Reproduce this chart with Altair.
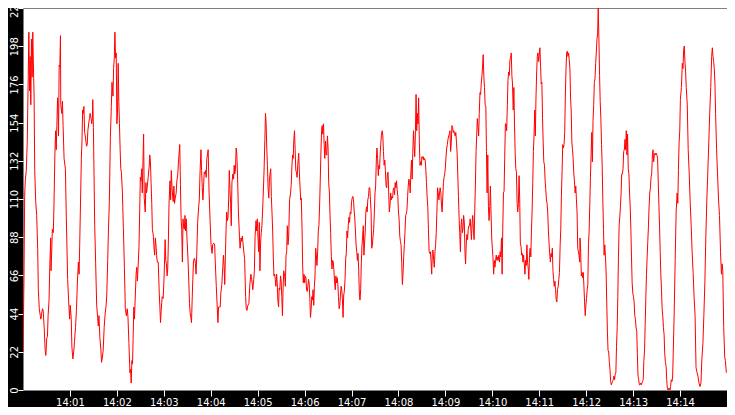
import altair as alt
import pandas as pd

# seconds after 14:00:00 at which each value was read
SECS = [
 0, 1.25, 2.1, 2.9, 4.2, 5.4, 6.7, 7.5, 8.3, 9.2, 10, 10.8, 11.7, 12.5, 13.3, 14.2, 15, 16.25, 17.5, 18.75,
 19.6, 20.8, 22.1, 22.9, 23.75, 25, 25.8, 27.1, 28.3, 29.2, 30.4, 31.25, 32.1, 33.3, 34.2, 35.4, 35.8, 36.7, 37.5, 38.75,
 39.6, 40.8, 41.7, 42.5, 43.3, 44.2, 45, 45.4, 46.25, 47.1, 47.9, 48.3, 49.6, 50.4, 51.25, 52.5, 54.2, 55.4, 57.1, 58.3,
 59.6, 60.4, 61.7, 62.5, 63.75, 65, 65.8, 67.1, 68.3, 69.6, 70.8, 71.7, 72.5, 73.75, 74.6, 75.4, 76.25, 77.1, 77.9, 78.75,
 79.6, 80.4, 81.25, 82.1, 82.9, 84.2, 85, 85.8, 87.1, 87.9, 88.75, 89.2, 90, 90.8, 91.7, 92.9, 94.2, 95.4, 96.25, 97.1,
 98.3, 99.6, 100.4, 101.25, 102.5, 103.75, 105, 106.25, 107.1, 108.3, 109.2, 110.4, 111.7, 112.9, 113.75, 115, 115.8, 116.7, 117.5,
 118.3, 119.2, 120, 120.8, 121.7, 122.5, 123.3, 124.2, 125, 125.8, 127.1, 128.3, 129.6, 130.8, 132.1, 133.3, 134.2, 135.4, 136.7, 137.5,
 138.3, 139.2, 140, 140.8, 141.7, 142.5, 143.3, 144.6, 145.4, 146.25, 147.1, 148.3, 149.2, 150, 150.8, 151.7, 152.5, 153.3, 154.2, 155,
 156.25, 157.1, 157.9, 158.75, 160, 161.25, 162.1, 162.9, 163.75, 164.6, 165.4, 166.7, 167.5, 168.3, 169.2, 170, 170.8, 171.7, 172.9, 174.2,
 175, 175.8, 176.7, 177.9, 179.2, 180.4, 181.7, 182.5, 183.3, 184.2, 185, 185.8, 186.7, 187.9, 188.75, 189.6, 190.4, 191.25, 192.1, 192.9,
 193.75, 194.6, 195.8, 196.7, 197.9, 198.75, 199.6, 200.4, 201.25, 202.1, 202.9, 203.75, 204.6, 205.4, 206.25, 207.1, 207.9, 208.75, 209.6, 210.8,
 211.7, 212.9, 213.75, 214.6, 215.4, 216.25, 217.1, 217.9, 218.75, 219.6, 220.4, 221.25, 222.1, 223.3, 224.6, 225.4, 226.25, 227.5, 228.3, 229.2,
 230, 230.8, 231.7, 232.5, 233.3, 234.2, 235, 235.8, 236.7,
 237.1, 237.9, 239.2, 240.4, 241.7, 242.5, 243.75, 245, 245.8, 247.1, 248.3, 249.2, 250, 251.25, 252.1, 252.9, 254.2, 255.4, 256.25, 257.1,
 257.9, 258.75, 259.6, 260.4, 261.25, 262.1, 262.9, 263.75, 264.6, 265.4, 266.25, 267.1, 268.3, 269.2, 270, 270.8, 271.7, 272.5, 273.3, 274.2,
 275.4, 276.7, 277.5, 278.75, 279.6, 280.4, 281.25, 282.1, 283.3, 284.6, 285.4, 286.25, 287.5, 288.75, 290, 291.25, 292.1, 292.9, 293.75, 295,
 295.8, 296.7, 297.9, 298.75, 299.6, 300.4, 301.25, 302.1, 302.9, 303.75, 304.6, 305.4, 306.25, 307.5, 308.3, 309.2, 310, 310.8, 311.7, 312.5,
 313.3, 314.2, 315, 315.8, 316.7, 317.5, 318.3, 319.2, 320, 320.8, 321.7, 322.5, 323.3, 324.2, 325, 325.8, 326.7, 327.5, 328.3, 329.2,
 330, 330.8, 331.7, 332.5, 333.3, 334.6, 335.4, 336.25, 337.1, 337.9, 338.75, 339.6, 340.8, 342.1, 342.9, 343.75, 344.6, 345.4, 346.25, 347.1,
 347.9, 348.75, 349.6, 350.4, 351.25, 352.5, 353.3, 354.2, 355, 355.8,
 356.7, 357.5, 358.3, 359.2, 360, 360.8, 361.7, 362.5, 363.3, 364.2, 365, 365.8, 366.7, 367.5, 368.3, 369.2, 370, 370.8, 371.7, 372.5,
 373.3, 374.2, 375, 375.8, 376.7, 377.5, 378.3, 379.2, 380, 380.8, 381.7, 382.5, 383.3, 384.2, 385, 385.8, 386.7, 387.5, 388.3, 389.2,
 390, 390.8, 391.7, 392.5, 393.3, 394.2, 395, 395.8, 396.7, 397.5, 398.3, 399.2, 400, 400.8, 401.7, 402.5, 403.3, 404.2, 405, 405.8,
 406.7, 407.5, 408.3, 409.2, 410, 410.8, 411.7, 412.5, 413.3, 414.2, 415, 415.8, 416.7, 417.5, 418.3, 419.2, 420, 420.8, 421.7, 422.5,
 423.3, 424.2, 425, 425.8, 426.7, 427.5, 428.3, 429.2, 430, 430.8, 431.7, 432.5, 433.3, 434.2, 435, 435.8, 436.7, 437.5, 438.3, 439.2,
 440, 440.8, 441.7, 442.5, 443.3, 444.2, 445, 445.8, 446.7, 447.5, 448.3, 449.2, 450, 450.8, 451.7, 452.5, 453.3, 454.2, 455, 455.8,
 456.7, 457.5, 458.3, 459.2, 460, 460.8, 461.7, 462.5, 463.3, 464.2, 465, 465.8, 466.7, 467.5, 468.3, 469.2, 470, 470.8, 471.7, 472.5,
 473.3, 474.2,
 475, 475.8, 476.7, 477.5, 478.3, 479.2, 480, 480.8, 481.7, 482.5, 483.3, 484.2, 485, 485.8, 486.7, 487.5, 488.3, 489.2, 490, 490.8,
 491.7, 492.5, 493.3, 494.2, 495, 495.8, 496.7, 497.5, 498.3, 499.2, 500, 500.8, 501.7, 502.5, 503.3, 504.2, 505, 505.8, 506.7, 507.5,
 508.3, 509.2, 510, 510.8, 511.7, 512.5, 513.3, 514.2, 515, 515.8, 516.7, 517.5, 518.3, 519.2, 520, 520.8, 521.7, 522.5, 523.3, 524.2,
 525, 525.8, 526.7, 527.5, 528.3, 529.2, 530, 530.8, 531.7, 532.5, 533.3, 534.2, 535, 535.8, 536.7, 537.5, 538.3, 539.2, 540, 540.8,
 541.7, 542.5, 543.3, 544.2, 545, 545.8, 546.7, 547.5, 548.3, 549.2, 550, 550.8, 551.7, 552.5, 553.3, 554.2, 555, 555.8, 556.7, 557.5,
 558.3, 559.2, 560, 560.8, 561.7, 562.5, 563.3, 564.2, 565, 565.8, 566.7, 567.5, 568.3, 569.2, 570, 570.8, 571.7, 572.5, 573.3, 574.2,
 575, 575.8, 576.7, 577.5, 578.3, 579.2, 580, 580.8, 581.7, 582.5, 583.3, 584.2, 585, 585.8, 586.7, 587.5, 588.3, 589.2, 590, 590.8,
 591.7, 592.5, 593.3,
 594.2, 595, 595.8, 596.7, 597.5, 598.3, 599.2, 600, 600.8, 601.7, 602.5, 603.3, 604.2, 605, 605.8, 606.7, 607.5, 608.3, 609.2, 610,
 610.8, 611.7, 612.5, 613.3, 614.2, 615, 615.8, 616.7, 617.5, 618.3, 619.2, 620, 620.8, 621.7, 622.5, 623.3, 624.2, 625, 625.8, 626.7,
 627.5, 628.3, 629.2, 630, 630.8, 631.7, 632.5, 633.3, 634.2, 635, 635.8, 636.7, 637.5, 638.3, 639.2, 640, 640.8, 641.7, 642.5, 643.3,
 644.2, 645, 645.8, 646.7, 647.5, 648.3, 649.2, 650, 650.8, 651.7, 652.5, 653.3, 654.2, 655, 655.8, 656.7, 657.5, 658.3, 659.2, 660,
 660.8, 661.7, 662.5, 663.3, 664.2, 665, 665.8, 666.7, 667.5, 668.3, 669.2, 670, 670.8, 671.7, 672.5, 673.3, 674.2, 675, 675.8, 676.7,
 677.5, 678.3, 679.2, 680, 680.8, 681.7, 682.5, 683.3, 684.2, 685, 685.8, 686.7, 687.5, 688.3, 689.2, 690, 690.8, 691.7, 692.5, 693.3,
 694.2, 695, 695.8, 696.7, 697.5, 698.3, 699.2, 700, 700.8, 701.7, 702.5, 703.3, 704.2, 705, 705.8, 706.7, 707.5, 708.3, 709.2, 710,
 710.8, 711.7,
 712.1, 712.9, 713.75, 714.6, 715.4, 716.25, 717.1, 717.9, 718.75, 719.6, 720.4, 721.25, 722.1, 722.9, 723.75, 724.6, 725.4, 726.25, 727.1, 727.9,
 728.75, 729.6, 730.4, 731.25, 732.1, 732.9, 733.75, 734.6, 735.4, 736.25, 737.1, 737.9, 738.75, 739.6, 740.4, 741.25, 742.1, 742.9, 743.75, 744.6,
 745.4, 746.25, 747.1, 747.9, 748.75, 749.6, 750.4, 751.25, 752.1, 752.9, 753.75, 754.6, 755.4, 756.25, 757.1, 757.9, 758.75, 759.6, 760.4, 761.25,
 762.1, 762.9, 763.75, 764.6, 765.4, 766.25, 767.1, 767.9, 768.75, 769.6, 770.4, 771.25, 772.1, 772.9, 773.75, 774.6, 775.4, 776.25, 777.1, 777.9,
 778.75, 779.6, 780.4, 781.25, 782.1, 782.9, 783.75, 784.6, 785.4, 786.25, 787.1, 787.9, 788.75, 789.6, 790.4, 791.25, 792.1, 792.9, 793.75, 794.6,
 795.4, 796.25, 797.1, 797.9, 798.75, 799.6, 800.4, 801.25, 802.1, 802.9, 803.75, 804.6, 805.4, 806.25, 807.1, 807.9, 808.75, 809.6, 810.4, 811.25,
 812.1, 812.9, 813.75, 814.6, 815.4, 816.25, 817.1, 817.9, 818.75, 819.6, 820.4, 821.25, 822.1, 822.9, 823.75, 824.6, 825.4, 826.25, 827.1, 827.9,
 828.75, 829.6, 830.4,
 831.25, 832.5, 833.75, 835, 836.25, 837.1, 837.9, 838.75, 839.6, 840.4, 841.7, 842.9, 843.75, 844.6, 845.4, 846.25, 847.1, 847.9, 849.2, 850.4,
 851.7, 852.9, 854.2, 855.4, 856.7, 857.9, 859.2, 860.4, 861.7, 862.9, 864.2, 865.4, 866.7, 867.9, 869.2, 870.4, 871.7, 872.9, 874.2, 875.4,
 876.7, 877.9, 879.2, 880.4, 881.25, 882.1, 882.9, 883.75, 884.6, 885.4, 886.7, 887.9, 889.2, 890.4, 891.7, 892.9, 893.75, 894.6, 895.8, 897.1,
 897.9, 899.2,
]

VALUES = [
 22, 64, 112, 121, 127, 143, 182, 207, 173, 193, 165, 203, 181, 207, 188, 170, 127, 109, 101, 82,
 58, 47, 43, 41, 44, 47, 46, 36, 23, 20, 30, 31, 43, 52, 71, 88, 69, 80, 93, 91,
 107, 137, 150, 139, 153, 169, 158, 147, 188, 187, 205, 165, 160, 167, 153, 134, 128, 99, 64, 52,
 41, 49, 41, 25, 18, 23, 28, 36, 46, 63, 74, 67, 84, 114, 134, 144, 162, 160, 164, 149,
 147, 144, 141, 142, 150, 155, 157, 160, 157, 154, 158, 168, 152, 125, 95, 73, 49, 42, 37, 43,
 30, 23, 16, 18, 23, 36, 44, 49, 55, 75, 92, 109, 146, 164, 178, 170, 186, 192, 207,
 192, 195, 154, 160, 189, 167, 154, 139, 128, 126, 114, 94, 71, 47, 43, 47, 42, 27, 10, 12,
 4, 17, 15, 30, 48, 41, 51, 67, 71, 63, 71, 83, 104, 123, 121, 128, 114, 131, 148, 111,
 103, 120, 114, 117, 123, 129, 136, 132, 120, 108, 93, 89, 82, 78, 88, 84, 78, 74, 74, 56,
 48, 39, 46, 54, 53, 66, 87, 75, 73, 66, 70, 85, 108, 121, 110, 127, 118, 112, 109, 118,
 108, 111, 114, 121, 125, 132, 137, 142, 119, 99, 93, 74, 99, 94, 93, 101, 92, 99, 88, 77,
 66, 50, 44, 42, 39, 52, 64, 74, 76, 76, 73, 67, 78, 97, 106, 110, 125, 139, 127, 117,
 110, 117, 126, 125, 127, 123, 134, 136, 139,
 132, 114, 98, 84, 79, 84, 85, 84, 74, 60, 48, 39, 48, 48, 48, 56, 61, 71, 78, 72,
 61, 78, 93, 103, 98, 100, 110, 127, 116, 108, 95, 120, 125, 122, 130, 125, 128, 140, 137, 125,
 103, 89, 82, 88, 86, 89, 85, 81, 76, 54, 47, 46, 49, 50, 61, 67, 65, 62, 58, 64,
 69, 89, 98, 92, 99, 88, 80, 97, 69, 85, 91, 95, 103, 118, 129, 145, 160, 154, 139, 130,
 117, 111, 121, 125, 128, 112, 103, 92, 77, 66, 67, 64, 60, 67, 62, 52, 48, 59, 58, 66,
 63, 54, 43, 59, 69, 66, 60, 78, 80, 95, 84, 88, 110, 114, 119, 129, 136, 134, 145, 150,
 139, 127, 126, 123, 130, 137, 126, 117, 110, 111,
 94, 72, 62, 67, 62, 66, 65, 58, 57, 60, 64, 62, 53, 42, 46, 54, 52, 58, 49, 60,
 66, 82, 78, 72, 80, 92, 95, 107, 121, 136, 150, 153, 148, 154, 142, 134, 144, 136, 136, 147,
 140, 120, 114, 101, 91, 77, 70, 75, 74, 69, 63, 58, 66, 62, 65, 61, 54, 47, 49, 55,
 60, 58, 53, 42, 55, 57, 64, 76, 79, 92, 88, 95, 100, 97, 103, 102, 109, 111, 112, 110,
 104, 99, 92, 84, 80, 75, 79, 69, 56, 52, 58, 73, 83, 89, 95, 78, 85, 92, 103, 106,
 103, 110, 112, 117, 117, 110, 103, 82, 84, 89, 93, 103, 114, 118, 133, 140, 134, 124, 130, 128,
 137, 143, 148, 150, 147, 138, 130, 133, 127, 118, 117, 125, 126, 114, 103, 107, 114, 110, 112, 111,
 116, 117,
 113, 120, 117, 121, 116, 112, 103, 99, 89, 86, 84, 73, 61, 67, 77, 84, 91, 101, 102, 104,
 112, 118, 122, 120, 114, 125, 133, 122, 137, 150, 142, 135, 150, 171, 150, 160, 154, 169, 143, 130,
 132, 130, 135, 134, 135, 133, 134, 133, 127, 120, 111, 106, 93, 80, 79, 80, 74, 67, 80, 81,
 75, 71, 80, 84, 91, 104, 117, 114, 110, 114, 117, 114, 107, 103, 112, 120, 123, 125, 129, 135,
 140, 142, 145, 147, 148, 150, 138, 143, 153, 152, 149, 150, 148, 147, 149, 143, 137, 125, 112, 100,
 91, 80, 95, 99, 91, 93, 101, 97, 80, 73, 85, 90, 87, 93, 95, 95, 99, 93, 87, 97,
 101, 93, 87, 103, 118, 138, 147, 157, 152, 147, 160, 172, 171, 177, 182, 187, 194, 181, 175, 165,
 164, 138, 114,
 136, 106, 98, 106, 118, 103, 88, 82, 77, 67, 75, 71, 75, 78, 75, 77, 75, 78, 74, 80,
 77, 88, 67, 92, 114, 115, 134, 154, 154, 150, 165, 179, 184, 182, 191, 192, 195, 182, 177, 162,
 175, 155, 137, 128, 126, 108, 103, 108, 124, 110, 85, 83, 78, 79, 74, 78, 73, 67, 75, 72,
 84, 74, 71, 64, 78, 82, 77, 92, 103, 120, 138, 147, 162, 147, 169, 184, 193, 195, 190, 194,
 198, 187, 177, 178, 157, 143, 132, 130, 121, 116, 110, 108, 103, 92, 85, 79, 74, 79, 77, 82,
 69, 64, 60, 63, 58, 52, 51, 58, 60, 64, 68, 84, 93, 112, 127, 142, 140, 142, 149, 169,
 186, 195, 196, 193, 195, 191, 186, 169, 162, 143, 139, 134, 125, 121, 114, 118, 110, 103, 82, 80,
 78, 74,
 88, 81, 66, 68, 65, 68, 60, 51, 43, 49, 53, 58, 61, 84, 92, 108, 123, 136, 149, 132,
 156, 165, 178, 180, 189, 195, 203, 206, 221, 203, 182, 167, 157, 142, 130, 110, 93, 78, 84, 77,
 69, 51, 34, 23, 22, 16, 12, 5, 3, 4, 5, 6, 8, 6, 9, 10, 25, 36, 54, 77,
 95, 100, 106, 114, 125, 125, 128, 138, 139, 145, 139, 150, 136, 148, 128, 125, 114, 106, 93, 77,
 62, 56, 54, 51, 43, 41, 36, 34, 21, 8, 6, 3, 3, 4, 3, 4, 5, 6, 17, 23,
 38, 54, 67, 77, 86, 95, 106, 114, 117, 123, 125, 136, 139, 132, 136, 137, 136, 137, 136, 134,
 121, 108, 95, 80, 67, 58, 47, 43, 36, 32, 21, 16, 14, 6, 1, 0, 1, 1, 0, 2,
 6, 5, 6,
 21, 45, 75, 103, 114, 108, 127, 143, 150, 168, 175, 189, 186, 197, 199, 190, 184, 175, 165, 139,
 125, 109, 95, 80, 68, 54, 43, 13, 10, 8, 4, 2, 4, 18, 27, 43, 62, 88, 110, 125,
 143, 160, 175, 193, 198, 193, 190, 186, 177, 160, 139, 125, 110, 101, 80, 67, 73, 69, 36, 19,
 17, 10,
]

Y_TICKS = [0, 22.1, 44.2, 66.3, 88.4, 110.5, 132.6, 154.7, 176.8, 198.9, 221]
X_TICK_MINUTES = list(range(1, 15))
DOMAIN_MINUTES = [0, 15]


def stamp(s):
    ms = int(round(s * 1000))
    m, rem = divmod(ms, 60000)
    return f"2024-01-01T14:{m:02d}:{rem // 1000:02d}.{rem % 1000:03d}"


def at(minute):
    return alt.DateTime(year=2024, month=1, date=1, hours=14, minutes=minute)


df = pd.DataFrame({"time": [stamp(s) for s in SECS], "value": VALUES})

chart = (
    alt.Chart(df)
    .mark_line(color="#ff0000", strokeWidth=1, clip=True)
    .encode(
        x=alt.X(
            "time:T",
            scale=alt.Scale(domain=[at(m) for m in DOMAIN_MINUTES]),
            axis=alt.Axis(
                values=[at(m) for m in X_TICK_MINUTES],
                format="%H:%M",
                title=None,
                domain=False,
                grid=False,
                tickColor="white",
                tickSize=6,
                labelColor="white",
                labelFont="DejaVu Sans",
                labelFontSize=10,
                labelPadding=1,
                labelAlign="center",
                labelBaseline="top",
                labelFlush=False,
                labelOverlap=False,
            ),
        ),
        y=alt.Y(
            "value:Q",
            scale=alt.Scale(domain=[0, 221], nice=False),
            axis=alt.Axis(
                values=Y_TICKS,
                labelExpr="floor(datum.value)",
                title=None,
                domain=False,
                grid=False,
                tickColor="white",
                tickSize=5,
                labelColor="white",
                labelFont="DejaVu Sans",
                labelFontSize=10,
                labelPadding=1,
                labelAngle=270,
                labelAlign="center",
                labelBaseline="alphabetic",
                labelFlush=False,
                labelOverlap=False,
            ),
        ),
    )
    .properties(
        width=704,
        height=382,
        background="black",
        padding={"left": 15, "top": 0, "right": 0, "bottom": 17},
        autosize=alt.AutoSizeParams(type="none"),
    )
    .configure_view(fill="white", strokeOpacity=0)
)

chart.save("out.html", embed_options={"renderer": "svg", "actions": False})
